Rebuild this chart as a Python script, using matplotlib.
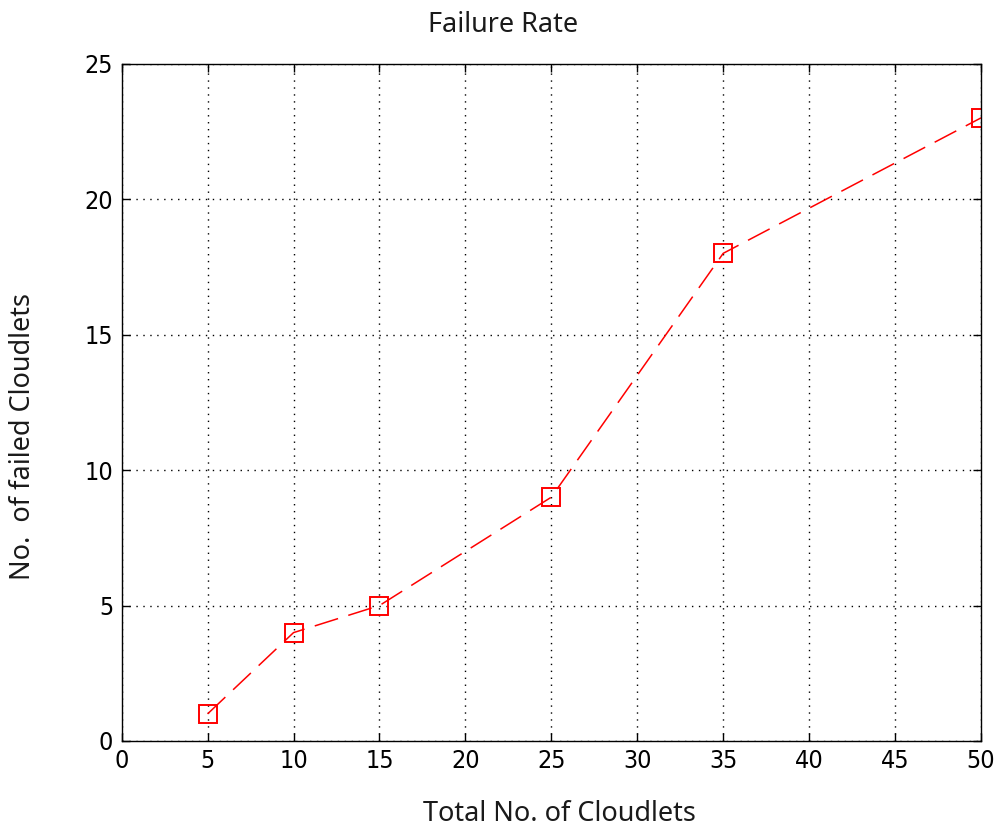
import matplotlib
matplotlib.use('Agg')
import matplotlib.pyplot as plt

# data to plot
cloudlets = [5, 10, 15, 25, 35, 50]
failed = [1, 4, 5, 9, 18, 23]

fig = plt.figure(figsize=(9.97, 8.27), dpi=100)
ax = fig.add_axes([0.122, 0.104, 0.862, 0.819])

ax.plot(cloudlets, failed, color='red', linestyle=(0, (16, 7)), linewidth=1.1,
        marker='s', markersize=12.5, markerfacecolor='none', markeredgecolor='red',
        markeredgewidth=1.4)

ax.set_xlim(0, 50)
ax.set_ylim(0, 25)
ax.set_xticks(range(0, 51, 5))
ax.set_yticks(range(0, 26, 5))
ax.grid(True, color='black', linestyle=(0, (1, 4)), linewidth=1.0)
ax.tick_params(direction='in', top=True, right=True, length=6, width=1,
               labelsize=18, pad=6)
for lbl in ax.get_xticklabels() + ax.get_yticklabels():
    lbl.set_family(['Liberation Sans Narrow', 'DejaVu Sans'])
    lbl.set_stretch('condensed')
for s in ax.spines.values():
    s.set_linewidth(1.0)

lab_font = dict(family=['Noto Sans', 'DejaVu Sans'], fontsize=19.5, color='#1a1a1a')
fig.text(0.505, 0.970, 'Failure Rate', ha='center', va='center', **lab_font)
fig.text(0.561, 0.016, 'Total No. of Cloudlets', ha='center', va='center', **lab_font)
fig.text(0.023, 0.472, 'No.  of failed Cloudlets', ha='center', va='center',
         rotation=90, **lab_font)

fig.savefig('out.png', dpi=100)
